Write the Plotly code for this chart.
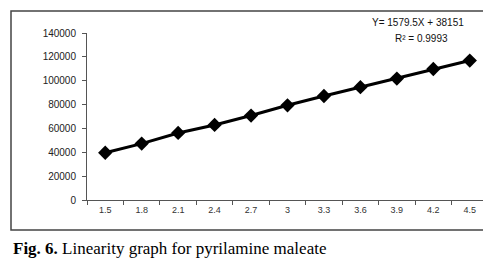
import plotly.graph_objects as go

concentrations = ["1.5", "1.8", "2.1", "2.4", "2.7", "3", "3.3", "3.6", "3.9", "4.2", "4.5"]
peak_areas = [39600, 47300, 56200, 62900, 70800, 79400, 87200, 94600, 101800, 109800, 116900]
y_ticks = [0, 20000, 40000, 60000, 80000, 100000, 120000, 140000]
equation_text = "Y= 1579.5X + 38151"
r2_text = "R² = 0.9993"
caption_bold = "Fig. 6."
caption_rest = " Linearity graph for pyrilamine maleate"

fig = go.Figure()
fig.add_trace(go.Scatter(
    x=concentrations, y=peak_areas, mode="lines+markers",
    line=dict(color="black", width=3),
    marker=dict(symbol="diamond", size=11, color="black"),
    showlegend=False,
))

W, H = 491, 258
L, R, T, B = 79, 11, 25, 66
pw, ph = W - L - R, H - T - B

def px(x):
    return (x - L) / pw

def py(y):
    return (H - B - y) / ph

fig.update_layout(
    width=W, height=H,
    margin=dict(l=L, r=R, t=T, b=B),
    paper_bgcolor="white", plot_bgcolor="white",
    font=dict(family="Liberation Sans", color="#222"),
    xaxis=dict(
        type="category", showgrid=False, showline=True, linecolor="#555", linewidth=1,
        ticks="outside", ticklen=4, tickcolor="#555", tickson="boundaries",
        tickfont=dict(size=9, color="#333"), range=[-0.5, len(concentrations) - 0.5],
        ticklabelstandoff=1,
    ),
    yaxis=dict(
        range=[0, 140000], tickvals=y_ticks, ticktext=[str(v) for v in y_ticks],
        showgrid=False, showline=True, linecolor="#555", linewidth=1,
        ticks="outside", ticklen=4, tickcolor="#555", zeroline=False,
        tickfont=dict(size=10, color="#222"), ticklabelstandoff=4,
    ),
    shapes=[dict(
        type="rect", xref="paper", yref="paper",
        x0=px(3), x1=px(488), y0=py(222), y1=py(3),
        line=dict(color="#444", width=1.5), fillcolor="rgba(0,0,0,0)", layer="below",
    )],
    annotations=[
        dict(text=equation_text, xref="paper", yref="paper", x=px(410), y=py(15),
             xanchor="center", yanchor="middle",
             showarrow=False, font=dict(size=10, color="#111")),
        dict(text=r2_text, xref="paper", yref="paper", x=px(413), y=py(31),
             xanchor="center", yanchor="middle",
             showarrow=False, font=dict(size=10, color="#111")),
        dict(text="<b>" + caption_bold + "</b>" + caption_rest, xref="paper", yref="paper",
             x=px(3), y=py(240), xanchor="left", yanchor="middle", showarrow=False,
             font=dict(family="Liberation Serif", size=17, color="black")),
    ],
)

fig.write_html("out.html")
